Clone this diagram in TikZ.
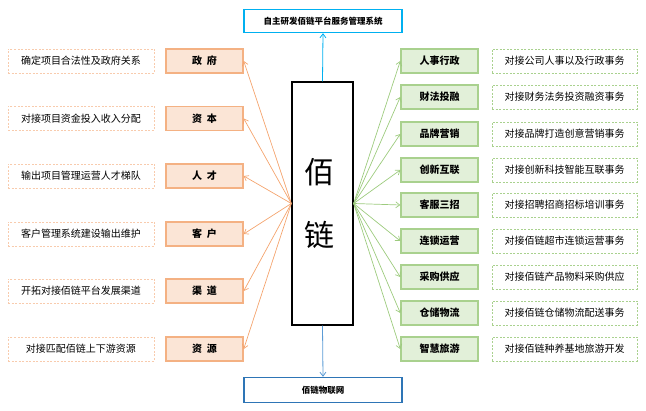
\documentclass[tikz,border=0pt]{standalone}
\usepackage{fontspec}
\setmainfont{Noto Sans CJK SC}
\usetikzlibrary{arrows.meta}
\definecolor{orgB}{HTML}{F4B183}
\definecolor{orgF}{HTML}{FBE5D6}
\definecolor{orgL}{HTML}{F4A46E}
\definecolor{orgD}{HTML}{F8CBAD}
\definecolor{grnB}{HTML}{A9D18E}
\definecolor{grnF}{HTML}{E2F0D9}
\definecolor{grnL}{HTML}{9DCB7E}
\definecolor{cyanB}{HTML}{00B0F0}
\definecolor{blueB}{HTML}{2E75B6}
\definecolor{blueL}{HTML}{5B9BD5}
\tikzset{
  obox/.style={draw=orgB, fill=orgF, line width=1.4pt, minimum width=77pt, minimum height=24pt, inner sep=0pt, font=\fontsize{10}{12}\selectfont\bfseries},
  odash/.style={draw=orgD, dashed, dash pattern=on 2pt off 1.5pt, line width=0.9pt, minimum width=146pt, minimum height=24pt, inner sep=0pt, font=\fontsize{10}{12}\selectfont},
  gbox/.style={draw=grnB, fill=grnF, line width=1.4pt, minimum width=77pt, minimum height=24pt, inner sep=0pt, font=\fontsize{10}{12}\selectfont\bfseries},
  gdash/.style={draw=grnB, dashed, dash pattern=on 2pt off 1.5pt, line width=0.9pt, minimum width=145pt, minimum height=24pt, inner sep=0pt, font=\fontsize{10}{12}\selectfont},
  oarr/.style={draw=orgL, line width=0.7pt, -{Straight Barb[length=4pt,width=6pt]}},
  garr/.style={draw=grnL, line width=0.7pt, -{Straight Barb[length=4pt,width=6pt]}},
}
\begin{document}
\begin{tikzpicture}[x=1pt,y=-1pt]
\useasboundingbox (0,0) rectangle (646,411);
% top and bottom boxes
\node[draw=cyanB, line width=1.4pt, minimum width=158pt, minimum height=23pt, inner sep=0pt, font=\fontsize{8.5}{10}\selectfont\bfseries] (top) at (323,21) {自主研发佰链平台服务管理系统};
\node[draw=blueB, line width=1.4pt, minimum width=158pt, minimum height=25pt, inner sep=0pt, font=\fontsize{8.5}{10}\selectfont\bfseries] (bot) at (323,390) {佰链物联网};
% center
\node[draw=black, line width=1.3pt, minimum width=61pt, minimum height=243pt, inner sep=0pt] (c) at (322.5,203.5) {};
\node[font=\fontsize{30}{30}\selectfont] (c1) at (319,172) {佰};
\node[font=\fontsize{30}{30}\selectfont] (c2) at (319,235) {链};
\draw[draw=cyanB, line width=0.8pt, -{Straight Barb[length=4pt,width=6pt]}] (c.north) -- (top.south);
\draw[draw=blueL, line width=0.8pt, -{Straight Barb[length=4pt,width=6pt]}] (c.south) -- (bot.north);
% left side
\foreach \i/\y/\lab/\desc in {1/61/政\ \ 府/确定项目合法性及政府关系, 2/118.5/资\ \ 本/对接项目资金投入收入分配, 3/176/人\ \ 才/输出项目管理运营人才梯队, 4/234/客\ \ 户/客户管理系统建设输出维护, 5/291/渠\ \ 道/开拓对接佰链平台发展渠道, 6/349/资\ \ 源/对接匹配佰链上下游资源}{
  \node[obox] (L\i) at (204.5,\y) {\lab};
  \node[odash] (LD\i) at (81,\y) {\desc};
  \draw[oarr] (c.west) -- (L\i.east);
}
% right side
\foreach \i/\y/\lab/\desc in {1/61/人事行政/对接公司人事以及行政事务, 2/97/财法投融/对接财务法务投资融资事务, 3/134/品牌营销/对接品牌打造创意营销事务, 4/170/创新互联/对接创新科技智能互联事务, 5/205/客服三招/对接招聘招商招标培训事务, 6/241/连锁运营/对接佰链超市连锁运营事务, 7/277/采购供应/对接佰链产品物料采购供应, 8/313/仓储物流/对接佰链仓储物流配送事务, 9/349/智慧旅游/对接佰链种养基地旅游开发}{
  \node[gbox] (R\i) at (439.5,\y) {\lab};
  \node[gdash] (RD\i) at (564.5,\y) {\desc};
  \draw[garr] (c.east) -- (R\i.west);
}
\end{tikzpicture}
\end{document}
